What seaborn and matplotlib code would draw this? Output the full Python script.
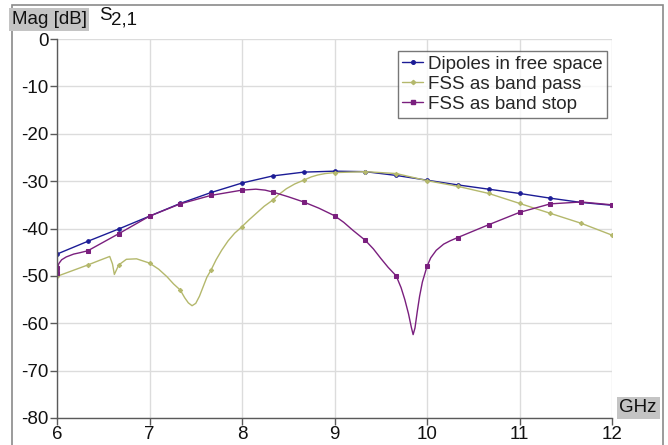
import numpy as np
import pandas as pd
import matplotlib
matplotlib.use("Agg")
import matplotlib.pyplot as plt
from matplotlib.patches import Rectangle
from matplotlib.lines import Line2D
import seaborn as sns

# Transmission magnitude S21 (dB) versus frequency (GHz)
freq_dipole = [6.0, 6.333, 6.667, 7.0, 7.333, 7.667, 8.0, 8.333, 8.667, 9.0,
               9.333, 9.667, 10.0, 10.333, 10.667, 11.0, 11.333, 11.667, 12.0]
mag_dipole = [-45.4, -42.7, -40.1, -37.4, -34.7, -32.4, -30.4, -28.9, -28.1, -27.9,
              -28.0, -28.8, -29.8, -30.8, -31.7, -32.6, -33.6, -34.5, -35.1]

freq_pass = [6.0, 6.333, 6.45, 6.57, 6.6, 6.62, 6.667, 6.75, 6.86, 7.0,
             7.1, 7.19, 7.26, 7.333, 7.38, 7.42, 7.46, 7.5, 7.54, 7.58,
             7.62, 7.667, 7.72, 7.78, 7.85, 7.92, 8.0, 8.08, 8.16, 8.24,
             8.333, 8.4, 8.48, 8.57, 8.667, 8.75, 8.82, 8.9, 9.0, 9.333,
             9.667, 10.0, 10.333, 10.667, 11.0, 11.333, 11.667, 12.0]
mag_pass = [-50.1, -47.7, -46.8, -45.9, -47.5, -49.7, -47.7, -46.5, -46.4, -47.3,
            -48.6, -50.2, -51.7, -53.0, -54.6, -55.7, -56.3, -55.8, -54.3, -52.3,
            -50.3, -48.7, -46.6, -44.6, -42.6, -41.0, -39.6, -38.1, -36.7, -35.3,
            -34.0, -32.8, -31.6, -30.6, -29.8, -29.1, -28.7, -28.4, -28.2, -28.0,
            -28.4, -29.9, -31.1, -32.6, -34.7, -36.8, -38.9, -41.4]

freq_stop = [6.0, 6.005, 6.02, 6.05, 6.1, 6.18, 6.25, 6.333, 6.667, 7.0,
             7.333, 7.667, 8.0, 8.15, 8.25, 8.333, 8.5, 8.667, 8.83, 9.0,
             9.1, 9.2, 9.333, 9.42, 9.5, 9.58, 9.667, 9.72, 9.76, 9.8,
             9.83, 9.85, 9.87, 9.895, 9.92, 9.95, 10.0, 10.04, 10.1, 10.18,
             10.25, 10.333, 10.667, 11.0, 11.333, 11.667, 12.0]
mag_stop = [-49.3, -48.3, -47.4, -46.6, -46.0, -45.4, -45.1, -44.7, -41.1, -37.4,
            -34.8, -33.0, -31.9, -31.7, -31.9, -32.3, -33.3, -34.4, -35.7, -37.3,
            -38.7, -40.4, -42.5, -44.3, -46.3, -48.2, -50.0, -52.5, -55.0, -58.0,
            -60.8, -62.4, -61.0, -57.5, -54.3, -51.3, -48.0, -46.2, -44.6, -43.3,
            -42.6, -41.9, -39.2, -36.6, -34.8, -34.4, -35.0]

series_names = ["Dipoles in free space", "FSS as band pass", "FSS as band stop"]
series_colors = ["#1c1c96", "#b4b86c", "#7a1f7e"]
series_markers = ["o", "D", "s"]
series_msize = [2.6, 2.2, 2.8]

x_ticks = [6, 7, 8, 9, 10, 11, 12]
y_ticks = [0, -10, -20, -30, -40, -50, -60, -70, -80]

sns.set_style("white")
plt.rcParams["font.family"] = ["Liberation Sans", "DejaVu Sans"]
FS = 13.5

W, H = 668, 445
fig = plt.figure(figsize=(W / 100, H / 100), dpi=100)
ax = fig.add_axes([57 / W, 1 - 418 / H, (612 - 57) / W, (418 - 39) / H])


def on_grid(f):
    # marker positions sit on a 1/3 GHz raster starting at 6 GHz
    k = (f - 6.0) * 3
    return abs(k - round(k)) < 0.02


frames = [
    pd.DataFrame({"f": freq_dipole, "m": mag_dipole}),
    pd.DataFrame({"f": freq_pass, "m": mag_pass}),
    pd.DataFrame({"f": freq_stop, "m": mag_stop}),
]
for df, name, col, mk, ms in zip(frames, series_names, series_colors,
                                 series_markers, series_msize):
    idx = [i for i, f in enumerate(df["f"]) if on_grid(f)]
    sns.lineplot(data=df, x="f", y="m", ax=ax, color=col, lw=1.0, sort=False,
                 marker=mk, markersize=ms, markevery=idx,
                 markeredgecolor=col, markerfacecolor=col, legend=False)

ax.set_xlim(6, 12)
ax.set_ylim(-80, 0)
ax.set_xticks(x_ticks)
ax.set_yticks(y_ticks)
ax.set_xticklabels([str(t) for t in x_ticks])
ax.set_yticklabels([str(t) for t in y_ticks])
ax.set_xlabel("")
ax.set_ylabel("")
ax.grid(True, color="#dcdcdc", lw=1.0)
for s in ["top", "right"]:
    ax.spines[s].set_visible(False)
for s in ["left", "bottom"]:
    ax.spines[s].set_color("#5a5a5a")
    ax.spines[s].set_linewidth(1.0)
ax.tick_params(axis="both", length=5, width=1, color="#5a5a5a",
               labelsize=FS, labelcolor="#111111", pad=1, direction="out",
               bottom=True, left=True)

handles = [Line2D([], [], color=c, lw=1.0, marker=m, markersize=s,
                  markerfacecolor=c, markeredgecolor=c)
           for c, m, s in zip(series_colors, series_markers, series_msize)]
leg = ax.legend(handles, series_names, loc="upper right",
                bbox_to_anchor=(0.991, 0.968), borderaxespad=0,
                fontsize=FS, frameon=True, fancybox=False, handlelength=1.1,
                handletextpad=0.25, labelspacing=0.15, borderpad=0.25,
                numpoints=1)
leg.get_frame().set_edgecolor("#555555")
leg.get_frame().set_linewidth(1.0)

# outer frame of the diagram
fig.patches.append(Rectangle((12 / W, -0.05), (663 - 12) / W, 1.05 - 5 / H,
                             transform=fig.transFigure, fill=False,
                             edgecolor="#8a8a8a", lw=1.2))

# quantity and unit captions in grey boxes
fig.text(49 / W, 1 - 19.5 / H, "Mag [dB]", fontsize=FS, ha="center",
         va="center", color="#111111",
         bbox=dict(boxstyle="square,pad=0.15", fc="#c4c4c4", ec="none"))
fig.text(99 / W, 1 - 15 / H, "S", fontsize=FS, ha="left", va="center",
         color="#111111")
fig.text(111 / W, 1 - 20 / H, "2,1", fontsize=FS, ha="left", va="center",
         color="#111111")
fig.text(638 / W, 1 - 408 / H, "GHz", fontsize=FS, ha="center", va="center",
         color="#111111",
         bbox=dict(boxstyle="square,pad=0.15", fc="#c4c4c4", ec="none"))

fig.savefig("out.png", dpi=100)
